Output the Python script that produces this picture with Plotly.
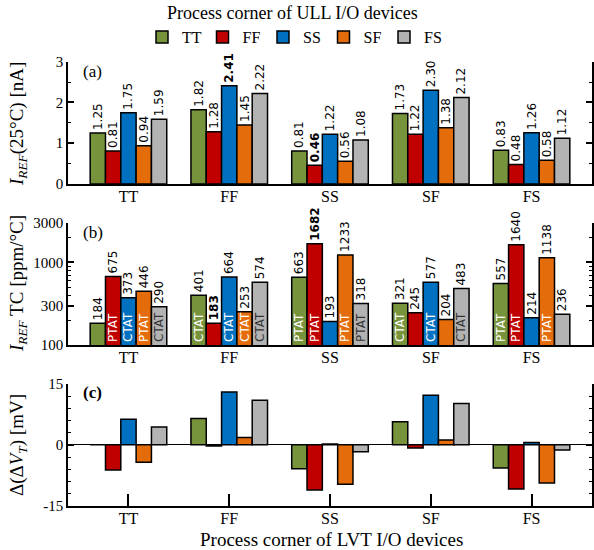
import plotly.graph_objects as go

corners = ['TT', 'FF', 'SS', 'SF', 'FS']          # LVT I/O process corners (x axis)
series = ['TT', 'FF', 'SS', 'SF', 'FS']           # ULL I/O process corners (legend)
colors = ['#77933C', '#C00000', '#0070C0', '#E46C0A', '#B3B3B3']

# (a) I_REF at 25C [nA]
iref = {
    'TT': [1.25, 1.82, 0.81, 1.73, 0.83],
    'FF': [0.81, 1.28, 0.46, 1.22, 0.48],
    'SS': [1.75, 2.41, 1.22, 2.30, 1.26],
    'SF': [0.94, 1.45, 0.56, 1.38, 0.58],
    'FS': [1.59, 2.22, 1.08, 2.12, 1.12],
}
iref_bold = {
    'TT': [0, 0, 0, 0, 0],
    'FF': [0, 0, 1, 0, 0],
    'SS': [0, 1, 0, 0, 0],
    'SF': [0, 0, 0, 0, 0],
    'FS': [0, 0, 0, 0, 0],
}
# (b) I_REF TC [ppm/C]
tc = {
    'TT': [184, 401, 663, 321, 557],
    'FF': [675, 183, 1682, 245, 1640],
    'SS': [373, 664, 193, 577, 214],
    'SF': [446, 253, 1233, 204, 1138],
    'FS': [290, 574, 318, 483, 236],
}
tc_bold = {
    'TT': [0, 0, 0, 0, 0],
    'FF': [0, 1, 1, 0, 0],
    'SS': [0, 0, 0, 0, 0],
    'SF': [0, 0, 0, 0, 0],
    'FS': [0, 0, 0, 0, 0],
}
tc_type = {
    'TT': ['', 'CTAT', 'PTAT', 'CTAT', 'PTAT'],
    'FF': ['PTAT', '', 'PTAT', '', 'PTAT'],
    'SS': ['CTAT', 'CTAT', '', 'CTAT', ''],
    'SF': ['PTAT', 'CTAT', 'PTAT', '', 'PTAT'],
    'FS': ['CTAT', 'CTAT', 'PTAT', 'CTAT', ''],
}
# (c) delta(delta V_T) [mV]
dvt = {
    'TT': [0.0, 6.5, -5.9, 5.7, -5.7],
    'FF': [-6.2, -0.3, -11.1, -0.8, -10.9],
    'SS': [6.3, 13.0, 0.2, 12.2, 0.6],
    'SF': [-4.3, 1.8, -9.7, 1.2, -9.4],
    'FS': [4.4, 11.0, -1.7, 10.2, -1.3],
}

SERIF = 'Liberation Serif'
SANS = 'DejaVu Sans'
W, H = 594, 550
ML, MR = 68, 2
PW = W - ML - MR


def fmt(v, b, spec):
    s = format(v, spec)
    return f'<b>{s}</b>' if b else s


fig = go.Figure()
for i, s in enumerate(series):
    fig.add_trace(go.Bar(
        x=corners, y=iref[s], name=s, offsetgroup=s, legendgroup=s,
        marker=dict(color=colors[i], line=dict(color='black', width=1.5)),
        text=[fmt(v, b, '.2f') for v, b in zip(iref[s], iref_bold[s])],
        textposition='outside', textangle=-90, constraintext='none', cliponaxis=False,
        textfont=dict(family=SANS, size=12, color='black'),
        xaxis='x', yaxis='y', hoverinfo='skip'))
for i, s in enumerate(series):
    fig.add_trace(go.Bar(
        x=corners, y=tc[s], name=s, offsetgroup=s, legendgroup=s, showlegend=False,
        marker=dict(color=colors[i], line=dict(color='black', width=1.5)),
        text=[fmt(v, b, 'd') for v, b in zip(tc[s], tc_bold[s])],
        textposition='outside', textangle=-90, constraintext='none', cliponaxis=False,
        textfont=dict(family=SANS, size=12, color='black'),
        xaxis='x2', yaxis='y2', hoverinfo='skip'))
for i, s in enumerate(series):
    fig.add_trace(go.Bar(
        x=corners, y=tc[s], name=s, offsetgroup=s, showlegend=False,
        marker=dict(color='rgba(0,0,0,0)', line=dict(width=0)),
        text=tc_type[s], textposition='inside', insidetextanchor='start',
        textangle=-90, constraintext='none', cliponaxis=False,
        insidetextfont=dict(family=SANS, size=12,
                            color='#333333' if s == 'FS' else 'white'),
        xaxis='x2', yaxis='y2', hoverinfo='skip'))
for i, s in enumerate(series):
    fig.add_trace(go.Bar(
        x=corners, y=dvt[s], name=s, offsetgroup=s, showlegend=False,
        marker=dict(color=colors[i], line=dict(color='black', width=1.5)),
        xaxis='x3', yaxis='y3', hoverinfo='skip'))


def ydom(top_px, bot_px):
    return [1 - bot_px / H, 1 - top_px / H]


xcommon = dict(type='category', range=[-0.6, 4.6], showline=True, linecolor='black',
               linewidth=1.5, showgrid=False, zeroline=False, automargin=False,
               ticklabelstandoff=-3,
               tickfont=dict(family=SERIF, size=16, color='black'), domain=[0, 1])
ycommon = dict(showline=True, linecolor='black', linewidth=1.5, mirror='ticks',
               ticks='inside', ticklen=6, tickwidth=1.5, tickcolor='black',
               showgrid=False, zeroline=False, automargin=False,
               tickfont=dict(family=SERIF, size=15, color='black'))

fig.update_layout(
    width=W, height=H, margin=dict(l=ML, r=MR, t=0, b=0, autoexpand=False),
    paper_bgcolor='white', plot_bgcolor='white',
    barmode='group', bargap=0.24, bargroupgap=0,
    xaxis=dict(xcommon, anchor='y', ticks=''),
    xaxis2=dict(xcommon, anchor='y2', ticks=''),
    xaxis3=dict(xcommon, anchor='y3', ticks='inside', ticklen=12, tickwidth=1.5,
                tickcolor='black'),
    yaxis=dict(ycommon, anchor='x', domain=ydom(61.7, 184), range=[0, 3],
               tickvals=[0, 1, 2, 3],
               minor=dict(ticks='inside', ticklen=3, tickwidth=1, tickcolor='black',
                          dtick=0.5, showgrid=False)),
    yaxis2=dict(ycommon, anchor='x2', domain=ydom(223, 345), type='log',
                range=[2, 3.4771], tickvals=[100, 300, 1000, 3000],
                ticktext=['100', '300', '1000', '3000'],
                minor=dict(ticks='inside', ticklen=3, tickwidth=1, tickcolor='black',
                           tickvals=[200, 400, 500, 600, 700, 800, 900, 2000],
                           showgrid=False)),
    yaxis3=dict(ycommon, anchor='x3', domain=ydom(384, 505.7), range=[-15, 15],
                tickvals=[-15, 0, 15], ticktext=['-15', '0', '15'],
                zeroline=True, zerolinecolor='black', zerolinewidth=1,
                minor=dict(ticks='inside', ticklen=3, tickwidth=1, tickcolor='black',
                           dtick=3, showgrid=False)),
    legend=dict(orientation='h', x=(142 - ML) / PW, xanchor='left',
                y=1 - 37 / H, yanchor='middle', bgcolor='rgba(0,0,0,0)',
                font=dict(family=SERIF, size=16, color='black'),
                entrywidth=15.5, entrywidthmode='pixels', traceorder='normal'),
    showlegend=True,
)

ann = []
ann.append(dict(text='Process corner of ULL I/O devices', xref='paper', yref='paper',
                x=(292 - ML) / PW, y=1 - 13 / H, xanchor='center',
                yanchor='middle', showarrow=False,
                font=dict(family=SERIF, size=18, color='black')))
ann.append(dict(text='Process corner of LVT I/O devices', xref='paper', yref='paper',
                x=(331 - ML) / PW, y=1 - 539 / H, xanchor='center',
                yanchor='middle', showarrow=False,
                font=dict(family=SERIF, size=19, color='black')))
ytitles = [('<i>I</i><sub><i>REF</i></sub>(25°C) [nA]', 124),
           ('<i>I</i><sub><i>REF</i></sub> TC [ppm/°C]', 284),
           ('Δ(Δ<i>V</i><sub><i>T</i></sub>) [mV]', 445)]
for t, yc in ytitles:
    ann.append(dict(text=t, xref='paper', yref='paper', x=(18 - ML) / PW,
                    y=1 - yc / H, xanchor='center', yanchor='middle', textangle=-90,
                    showarrow=False, font=dict(family=SERIF, size=19, color='black')))
for lab, ya, yy in [('(a)', 'y', 0.916), ('(b)', 'y2', 0.926), ('<b>(c)</b>', 'y3', 0.934)]:
    xa = 'x' if ya == 'y' else 'x' + ya[1:]
    ann.append(dict(text=lab, xref=xa + ' domain', yref=ya + ' domain', x=0.025, y=yy,
                    xanchor='left', yanchor='middle', showarrow=False,
                    font=dict(family=SERIF, size=17, color='black')))
fig.update_layout(annotations=ann)

fig.write_html('out.html')
